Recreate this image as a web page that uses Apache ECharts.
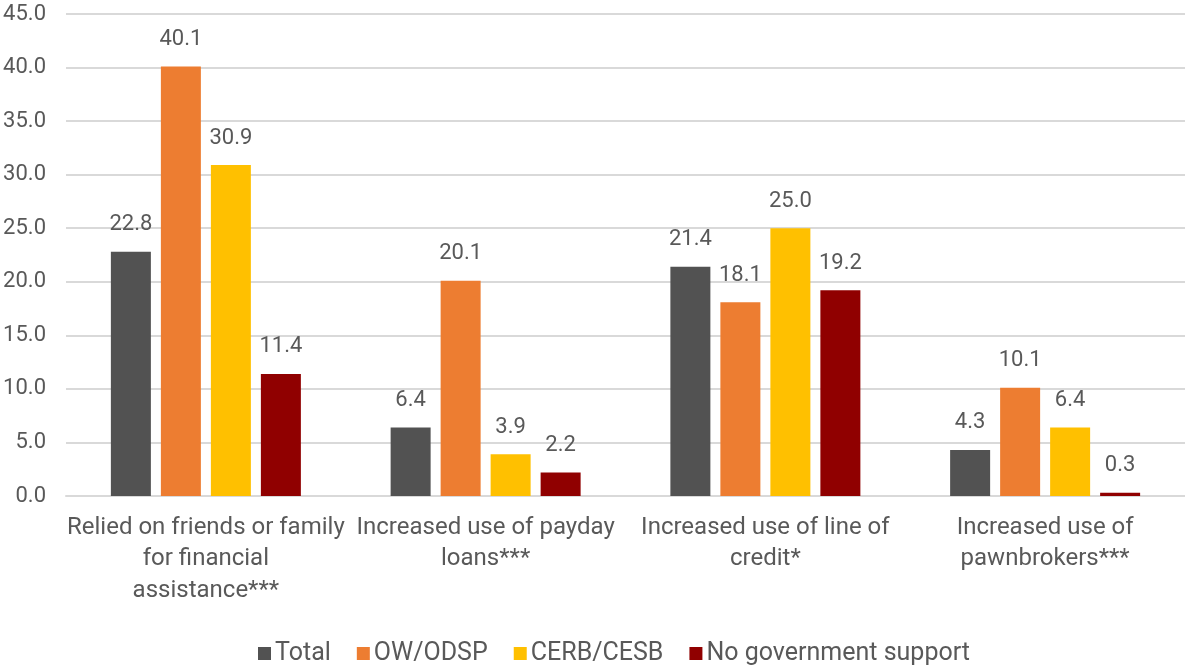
<!DOCTYPE html>
<html><head><meta charset="utf-8">
<script src="https://cdn.jsdelivr.net/npm/echarts@6/dist/echarts.min.js"></script>
<style>html,body{margin:0;padding:0;background:#fff}#c{width:1185px;height:666px}</style>
</head><body><div id="c"></div>
<script>
const categories = [
  "Relied on friends or family\nfor financial\nassistance***",
  "Increased use of payday\nloans***",
  "Increased use of line of\ncredit*",
  "Increased use of\npawnbrokers***"
];
const seriesNames = ["Total", "OW/ODSP", "CERB/CESB", "No government support"];
const total = [22.8, 6.4, 21.4, 4.3];
const owodsp = [40.1, 20.1, 18.1, 10.1];
const cerb = [30.9, 3.9, 25.0, 6.4];
const noGov = [11.4, 2.2, 19.2, 0.3];
const colors = ["#525252", "#ED7D31", "#FFC000", "#900000"];
const FONT = "Roboto, sans-serif";
const TXT = "#595959";
const data = [total, owodsp, cerb, noGov];
const chart = echarts.init(document.getElementById('c'));
chart.setOption({
  animation: false,
  textStyle: {fontFamily: FONT},
  grid: {left: 66, right: 0, top: 14, bottom: 170, containLabel: false},
  legend: {
    top: 636, left: 253, itemWidth: 13, itemHeight: 13, itemGap: 26,
    icon: 'rect',
    textStyle: {fontFamily: FONT, fontSize: 25, color: TXT, padding: [0,0,0,-1]},
    data: seriesNames
  },
  xAxis: {
    type: 'category', data: categories,
    axisLine: {show: true, lineStyle: {color: '#d9d9d9', width: 2}},
    axisTick: {show: false},
    axisLabel: {fontFamily: FONT, fontSize: 24, color: TXT, lineHeight: 31.5, margin: 16, interval: 0}
  },
  yAxis: {
    type: 'value', min: 0, max: 45, interval: 5,
    axisLine: {show: false}, axisTick: {show: false},
    splitLine: {lineStyle: {color: '#d9d9d9', width: 2}},
    axisLabel: {fontFamily: FONT, fontSize: 22, color: TXT, margin: 20,
      formatter: v => v.toFixed(1)}
  },
  series: seriesNames.map((n, i) => ({
    name: n, type: 'bar', data: data[i],
    barWidth: 40, barGap: '25%',
    itemStyle: {color: colors[i]},
    label: {show: true, position: 'top', distance: 16, fontFamily: FONT, fontSize: 22, color: TXT,
      formatter: p => p.value.toFixed(1)}
  }))
});
</script></body></html>
